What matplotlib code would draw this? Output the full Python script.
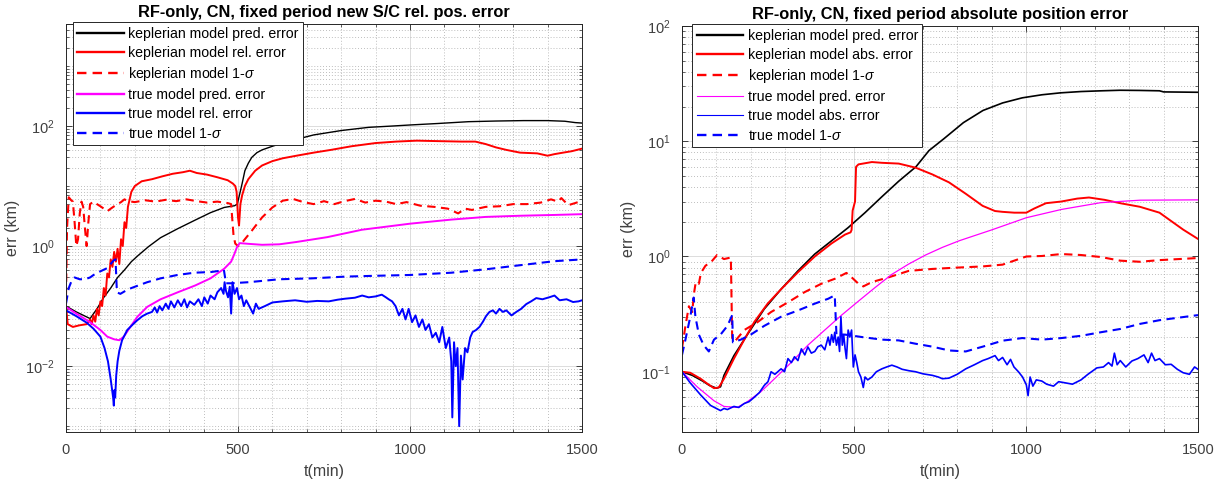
"""Two-panel log-scale error comparison (keplerian vs true model)."""

import matplotlib

matplotlib.use("Agg")
import matplotlib.pyplot as plt
import numpy as np
from matplotlib.ticker import FixedLocator, LogLocator, MultipleLocator, NullFormatter

plt.rcParams["font.family"] = ["Liberation Sans", "DejaVu Sans"]
plt.rcParams["mathtext.fontset"] = "custom"
plt.rcParams["mathtext.rm"] = "Liberation Sans"
plt.rcParams["mathtext.it"] = "Liberation Sans:italic"

# ---- left panel: new S/C relative position error, (t [min], err [km]) ----
left_kep_pred = [
    (0, 0.1), (30, 0.08), (70, 0.062), (90, 0.09), (110, 0.14), (130, 0.2),
    (150, 0.3), (170, 0.4), (190, 0.55), (210, 0.7), (240, 0.98), (275, 1.38),
    (325, 1.95), (375, 2.7), (420, 3.6), (460, 4.4), (490, 4.7), (498, 5.0),
    (505, 7.4), (512, 11), (520, 18), (530, 24), (540, 30), (555, 36),
    (570, 40), (600, 46), (625, 51), (660, 58), (720, 71), (800, 84),
    (880, 95), (950, 100), (1000, 104), (1080, 110), (1170, 118), (1250, 121),
    (1330, 123), (1400, 123), (1450, 120), (1480, 114), (1500, 112),
]
left_kep_err = [
    (0, 0.1), (5, 0.05), (20, 0.045), (40, 0.048), (60, 0.05), (70, 0.06),
    (75, 0.05), (80, 0.07), (85, 0.055), (90, 0.09), (95, 0.07), (100, 0.12),
    (105, 0.1), (110, 0.2), (115, 0.15), (120, 0.35), (125, 0.3), (130, 0.6),
    (135, 0.45), (140, 0.8), (145, 0.55), (150, 0.9), (155, 0.5), (160, 1.3),
    (165, 1.0), (170, 2.5), (175, 2.0), (180, 4.5), (185, 6), (190, 8),
    (200, 10), (220, 12), (250, 13), (280, 14.5), (310, 16), (340, 17),
    (360, 18), (380, 16.5), (410, 15.5), (440, 14), (470, 12.5), (485, 11),
    (492, 10), (496, 8), (500, 3), (503, 2.2), (507, 5), (512, 7), (520, 10),
    (530, 13), (550, 18), (570, 22), (600, 26), (630, 29), (670, 32),
    (720, 36), (770, 40), (830, 46), (900, 52), (960, 55), (1020, 57),
    (1080, 56), (1150, 55), (1190, 55), (1220, 50), (1250, 44), (1280, 40),
    (1320, 36), (1370, 35), (1400, 32), (1420, 34), (1445, 36), (1470, 38),
    (1500, 42),
]
left_kep_sig = [
    (0, 0.15), (3, 2.0), (8, 6.5), (15, 5.8), (20, 5.5), (25, 2.5), (30, 1.0),
    (35, 1.3), (40, 3.5), (45, 5.5), (50, 4.5), (55, 2.0), (60, 1.0),
    (65, 2.5), (70, 5.0), (80, 5.5), (90, 5.0), (100, 4.6), (110, 4.2),
    (120, 3.8), (130, 4.2), (140, 4.6), (150, 5.0), (160, 5.4), (170, 6.0),
    (180, 5.6), (200, 5.4), (230, 5.8), (260, 5.5), (290, 5.9), (320, 5.6),
    (350, 6.0), (380, 5.6), (410, 5.3), (440, 5.5), (470, 5.2), (480, 5.0),
    (487, 1.5), (492, 1.1), (500, 1.0), (510, 1.1), (520, 1.3), (540, 1.8),
    (570, 3.0), (600, 4.4), (630, 5.7), (660, 6.1), (690, 5.4), (720, 5.0),
    (750, 5.6), (780, 5.0), (810, 5.6), (840, 6.1), (870, 5.3), (900, 5.7),
    (930, 5.5), (960, 5.0), (990, 5.4), (1030, 4.7), (1070, 4.5),
    (1110, 4.2), (1140, 3.5), (1160, 4.2), (1180, 4.0), (1220, 4.5),
    (1260, 4.6), (1300, 5.0), (1340, 5.0), (1380, 5.3), (1410, 6.0),
    (1430, 5.5), (1440, 6.3), (1460, 4.8), (1480, 5.2), (1500, 5.7),
]
left_true_pred = [
    (0, 0.097), (30, 0.075), (70, 0.054), (100, 0.04), (120, 0.031),
    (140, 0.028), (155, 0.027), (168, 0.031), (187, 0.045), (207, 0.066),
    (236, 0.097), (275, 0.13), (325, 0.17), (375, 0.22), (420, 0.29),
    (460, 0.42), (480, 0.55), (490, 0.75), (497, 0.96), (505, 1.12),
    (530, 1.09), (570, 1.05), (620, 1.07), (670, 1.17), (760, 1.41),
    (860, 1.87), (1000, 2.36), (1120, 2.76), (1220, 3.06), (1320, 3.2),
    (1420, 3.3), (1500, 3.4),
]
left_true_err = [
    (0, 0.085), (30, 0.068), (60, 0.053), (80, 0.042), (100, 0.031),
    (112, 0.02), (122, 0.012), (130, 0.006), (134, 0.004), (137, 0.003),
    (139, 0.0022), (141, 0.004), (143, 0.003), (146, 0.007), (150, 0.012),
    (155, 0.018), (163, 0.027), (178, 0.04), (195, 0.05), (207, 0.058),
    (222, 0.068), (236, 0.075), (250, 0.08), (258, 0.095), (265, 0.078),
    (272, 0.1), (280, 0.085), (290, 0.11), (298, 0.09), (305, 0.12),
    (315, 0.095), (325, 0.125), (335, 0.1), (344, 0.13), (352, 0.095),
    (360, 0.12), (373, 0.105), (385, 0.13), (395, 0.1), (402, 0.14),
    (412, 0.11), (420, 0.15), (432, 0.13), (440, 0.17), (451, 0.2),
    (458, 0.16), (461, 0.25), (465, 0.18), (471, 0.14), (476, 0.21),
    (480, 0.075), (484, 0.25), (490, 0.16), (497, 0.2), (503, 0.13),
    (510, 0.15), (517, 0.1), (524, 0.125), (529, 0.11), (537, 0.09),
    (544, 0.075), (552, 0.11), (560, 0.09), (578, 0.1), (600, 0.115),
    (630, 0.12), (666, 0.125), (700, 0.118), (730, 0.122), (764, 0.12),
    (790, 0.128), (812, 0.133), (840, 0.138), (861, 0.15), (880, 0.14),
    (900, 0.145), (918, 0.155), (930, 0.14), (938, 0.13), (948, 0.12),
    (958, 0.1), (968, 0.07), (978, 0.09), (987, 0.06), (996, 0.09),
    (1006, 0.054), (1016, 0.07), (1026, 0.045), (1036, 0.06), (1045, 0.04),
    (1055, 0.05), (1065, 0.03), (1075, 0.036), (1085, 0.025), (1094, 0.045),
    (1104, 0.02), (1114, 0.03), (1120, 0.012), (1123, 0.0014), (1128, 0.025),
    (1133, 0.01), (1138, 0.02), (1143, 0.001), (1148, 0.015), (1153, 0.006),
    (1160, 0.02), (1167, 0.017), (1175, 0.03), (1182, 0.037), (1192, 0.04),
    (1202, 0.045), (1212, 0.055), (1221, 0.068), (1231, 0.08), (1241, 0.085),
    (1250, 0.075), (1260, 0.09), (1270, 0.08), (1280, 0.085), (1295, 0.07),
    (1309, 0.08), (1323, 0.09), (1338, 0.108), (1352, 0.12), (1367, 0.136),
    (1385, 0.13), (1406, 0.141), (1420, 0.15), (1435, 0.125), (1455, 0.13),
    (1474, 0.117), (1490, 0.12), (1500, 0.125),
]
left_true_sig = [
    (0, 0.11), (8, 0.2), (17, 0.27), (25, 0.3), (40, 0.28), (55, 0.28),
    (70, 0.3), (80, 0.33), (100, 0.38), (120, 0.43), (139, 0.58), (144, 0.6),
    (148, 0.17), (158, 0.16), (180, 0.19), (200, 0.21), (236, 0.25),
    (275, 0.29), (324, 0.33), (373, 0.36), (422, 0.37), (451, 0.39),
    (459, 0.4), (465, 0.24), (480, 0.24), (530, 0.25), (620, 0.28),
    (715, 0.29), (812, 0.31), (900, 0.32), (1000, 0.33), (1120, 0.36),
    (1220, 0.41), (1320, 0.48), (1420, 0.56), (1500, 0.6),
]

# ---- right panel: absolute position error ----
right_kep_pred = [
    (0, 0.1), (30, 0.093), (60, 0.083), (80, 0.076), (100, 0.072),
    (112, 0.074), (122, 0.093), (151, 0.138), (190, 0.21), (239, 0.35),
    (288, 0.52), (337, 0.75), (386, 1.05), (435, 1.37), (483, 1.78),
    (532, 2.4), (581, 3.3), (630, 4.5), (680, 6.0), (718, 8.3), (761, 10.5),
    (818, 14.5), (875, 18.5), (932, 21.5), (989, 23.8), (1046, 25.3),
    (1100, 26.3), (1160, 27), (1220, 27.4), (1274, 27.7), (1330, 27.6),
    (1388, 27.4), (1400, 26.8), (1450, 26.7), (1500, 26.6),
]
right_kep_err = [
    (0, 0.1), (24, 0.098), (54, 0.087), (73, 0.079), (93, 0.072),
    (107, 0.073), (122, 0.087), (151, 0.13), (181, 0.19), (210, 0.27),
    (249, 0.39), (288, 0.52), (337, 0.73), (386, 1.0), (435, 1.3),
    (474, 1.55), (490, 1.62), (493, 1.7), (496, 2.5), (503, 3.0), (506, 6.0),
    (513, 6.3), (552, 6.6), (581, 6.5), (630, 6.4), (679, 5.9), (728, 5.15),
    (776, 4.4), (825, 3.5), (874, 2.75), (910, 2.48), (932, 2.44),
    (966, 2.4), (1001, 2.4), (1023, 2.6), (1058, 2.9), (1103, 3.0),
    (1149, 3.18), (1183, 3.25), (1229, 3.1), (1274, 2.9), (1331, 2.7),
    (1388, 2.4), (1422, 2.03), (1457, 1.71), (1500, 1.42),
]
right_kep_sig = [
    (0, 0.16), (10, 0.25), (20, 0.37), (30, 0.33), (34, 0.46), (40, 0.6),
    (49, 0.58), (55, 0.72), (68, 0.83), (88, 0.92), (102, 1.03), (122, 0.95),
    (142, 0.98), (146, 0.187), (156, 0.187), (181, 0.23), (220, 0.27),
    (259, 0.33), (308, 0.4), (356, 0.49), (405, 0.58), (444, 0.64),
    (478, 0.72), (493, 0.66), (513, 0.58), (527, 0.55), (552, 0.6),
    (601, 0.66), (659, 0.75), (728, 0.78), (796, 0.8), (874, 0.82),
    (932, 0.85), (1001, 1.0), (1046, 1.01), (1103, 1.05), (1160, 1.03),
    (1217, 0.99), (1274, 0.92), (1331, 0.9), (1388, 0.93), (1500, 0.97),
]
right_true_pred = [
    (0, 0.1), (44, 0.074), (93, 0.056), (122, 0.05), (161, 0.049),
    (190, 0.055), (229, 0.067), (269, 0.087), (317, 0.12), (366, 0.17),
    (415, 0.23), (464, 0.31), (513, 0.41), (562, 0.54), (610, 0.70),
    (659, 0.86), (708, 1.03), (757, 1.2), (806, 1.37), (854, 1.53),
    (900, 1.7), (1001, 2.17), (1103, 2.56), (1217, 2.93), (1331, 3.08),
    (1500, 3.1),
]
right_true_err = [
    (0, 0.1), (24, 0.08), (54, 0.063), (83, 0.051), (100, 0.048),
    (112, 0.046), (122, 0.048), (132, 0.047), (151, 0.05), (165, 0.049),
    (181, 0.053), (195, 0.055), (210, 0.06), (225, 0.066), (239, 0.076),
    (250, 0.082), (259, 0.1), (270, 0.095), (288, 0.106), (298, 0.1),
    (308, 0.13), (318, 0.12), (327, 0.135), (337, 0.125), (347, 0.158),
    (357, 0.14), (366, 0.164), (376, 0.145), (386, 0.15), (395, 0.165),
    (405, 0.17), (415, 0.155), (425, 0.2), (430, 0.17), (435, 0.21),
    (440, 0.18), (444, 0.22), (449, 0.17), (454, 0.2), (458, 0.15),
    (462, 0.3), (466, 0.17), (470, 0.21), (474, 0.16), (478, 0.13),
    (483, 0.23), (488, 0.2), (493, 0.23), (498, 0.11), (503, 0.14),
    (508, 0.12), (513, 0.1), (520, 0.09), (527, 0.073), (532, 0.09),
    (540, 0.085), (552, 0.09), (565, 0.1), (581, 0.106), (595, 0.11),
    (610, 0.114), (625, 0.11), (640, 0.105), (660, 0.102), (679, 0.1),
    (700, 0.096), (728, 0.093), (745, 0.09), (757, 0.087), (776, 0.088),
    (800, 0.095), (825, 0.106), (850, 0.115), (874, 0.125), (890, 0.13),
    (910, 0.138), (920, 0.125), (932, 0.133), (945, 0.115), (955, 0.128),
    (965, 0.11), (978, 0.1), (990, 0.09), (1001, 0.077), (1006, 0.062),
    (1012, 0.09), (1020, 0.075), (1030, 0.085), (1046, 0.083), (1060, 0.078),
    (1080, 0.075), (1095, 0.082), (1115, 0.08), (1135, 0.078), (1160, 0.085),
    (1180, 0.095), (1206, 0.108), (1225, 0.11), (1240, 0.12), (1250, 0.112),
    (1257, 0.145), (1265, 0.115), (1274, 0.125), (1290, 0.11), (1308, 0.124),
    (1325, 0.13), (1343, 0.14), (1355, 0.12), (1365, 0.145), (1375, 0.125),
    (1388, 0.13), (1405, 0.115), (1422, 0.116), (1440, 0.105), (1457, 0.098),
    (1475, 0.095), (1490, 0.11), (1500, 0.105),
]
right_true_sig = [
    (0, 0.14), (10, 0.19), (24, 0.3), (34, 0.44), (39, 0.3), (49, 0.21),
    (63, 0.17), (78, 0.15), (93, 0.19), (112, 0.21), (132, 0.25),
    (146, 0.31), (148, 0.18), (171, 0.19), (200, 0.21), (239, 0.25),
    (288, 0.3), (337, 0.34), (386, 0.39), (425, 0.43), (444, 0.46),
    (449, 0.21), (474, 0.21), (523, 0.2), (581, 0.19), (630, 0.187),
    (679, 0.175), (728, 0.165), (776, 0.153), (825, 0.15), (874, 0.165),
    (932, 0.186), (989, 0.196), (1046, 0.19), (1103, 0.196), (1160, 0.205),
    (1217, 0.22), (1274, 0.235), (1331, 0.26), (1388, 0.28), (1500, 0.31),
]

left_labels = [
    "keplerian model pred. error", "keplerian model rel. error",
    "keplerian model 1-$\\sigma$", "true model pred. error",
    "true model rel. error", "true model 1-$\\sigma$",
]
right_labels = [
    "keplerian model pred. error", "keplerian model abs. error",
    "keplerian model 1-$\\sigma$", "true model pred. error",
    "true model abs. error", "true model 1-$\\sigma$",
]
left_title = "RF-only, CN, fixed period new S/C rel. pos. error"
right_title = "RF-only, CN, fixed period absolute position error"

AX_COLOR = "#262626"
DASH = (0, (4, 2.6))


def draw_panel(ax, series, labels, title, styles, ylim, major_y, legend_x):
    """Plot six error curves on a semilog axis, MATLAB-ish look."""
    for data, label, (color, ls, lw) in zip(series, labels, styles):
        t, v = np.array(data).T
        ax.plot(t, v, color=color, linestyle=ls, linewidth=lw, label=label)

    ax.set_yscale("log")
    ax.set_xlim(0, 1500)
    ax.set_ylim(*ylim)
    ax.xaxis.set_major_locator(FixedLocator([0, 500, 1000, 1500]))
    ax.xaxis.set_minor_locator(MultipleLocator(100))
    ax.yaxis.set_major_locator(FixedLocator(major_y))
    ax.yaxis.set_minor_locator(LogLocator(base=10, subs=np.arange(1, 10), numticks=50))
    ax.yaxis.set_minor_formatter(NullFormatter())

    ax.grid(True, which="major", color="#dcdcdc", linestyle="-", linewidth=0.7)
    ax.grid(True, which="minor", color="#a8a8a8", linestyle=(0, (1, 2.5)), linewidth=0.6)
    ax.set_axisbelow(True)

    ax.tick_params(which="both", direction="in", top=True, right=True,
                   colors=AX_COLOR, labelsize=10.5, labelcolor="#404040")
    ax.tick_params(which="major", length=4, width=0.6, pad=8)
    ax.tick_params(which="minor", length=2, width=0.5)
    for spine in ax.spines.values():
        spine.set_color(AX_COLOR)
        spine.set_linewidth(0.7)

    ax.set_xlabel("t(min)", fontsize=11.5, color="#404040", labelpad=5)
    ax.set_ylabel("err (km)", fontsize=11.5, color="#404040", labelpad=4)
    ax.set_title(title, fontsize=11.8, fontweight="bold", pad=5)

    leg = ax.legend(loc="upper left", bbox_to_anchor=(legend_x, 1.004),
                    borderaxespad=0, fontsize=10.2, handlelength=3.3,
                    handletextpad=0.3, labelspacing=0.36, borderpad=0.3,
                    fancybox=False, framealpha=1, edgecolor=AX_COLOR)
    leg.get_frame().set_linewidth(0.7)
    return leg


fig = plt.figure(figsize=(12.22, 4.88), dpi=100)
ax_l = fig.add_axes([66 / 1222, 1 - 432 / 488, 516 / 1222, 408 / 488])
ax_r = fig.add_axes([682 / 1222, 1 - 432 / 488, 516 / 1222, 406 / 488])

left_styles = [
    ("k", "-", 1.0), ("#ff0000", "-", 1.4), ("#ff0000", DASH, 1.5),
    ("#ff00ff", "-", 1.4), ("#0000ff", "-", 1.4), ("#0000ff", DASH, 1.5),
]
leg_l = draw_panel(
    ax_l,
    [left_kep_pred, left_kep_err, left_kep_sig,
     left_true_pred, left_true_err, left_true_sig],
    left_labels, left_title, left_styles,
    ylim=(8e-4, 5e3), major_y=[1e-2, 1e0, 1e2], legend_x=0.014,
)
# legend lines in the left panel are all drawn thick
for line in leg_l.get_lines():
    line.set_linewidth(1.7)

right_styles = [
    ("k", "-", 1.2), ("#ff0000", "-", 1.4), ("#ff0000", DASH, 1.5),
    ("#ff00ff", "-", 0.9), ("#0000ff", "-", 1.2), ("#0000ff", DASH, 1.5),
]
leg_r = draw_panel(
    ax_r,
    [right_kep_pred, right_kep_err, right_kep_sig,
     right_true_pred, right_true_err, right_true_sig],
    right_labels, right_title, right_styles,
    ylim=(0.03, 100), major_y=[1e-1, 1e0, 1e1, 1e2], legend_x=0.02,
)
for line, lw in zip(leg_r.get_lines(), [1.7, 1.7, 1.7, 0.8, 0.8, 1.7]):
    line.set_linewidth(lw)

fig.savefig("out.png", dpi=100)
